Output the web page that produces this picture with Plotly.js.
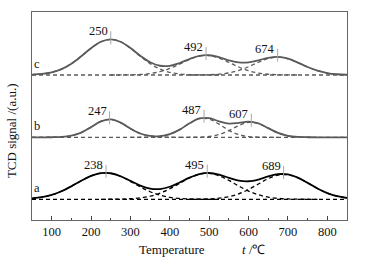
<!DOCTYPE html>
<html><head><meta charset="utf-8">
<script src="https://cdn.plot.ly/plotly-3.0.1.min.js"></script>
<style>html,body{margin:0;padding:0;background:#fff}#chart{width:375px;height:261px}</style>
</head><body><div id="chart"></div>
<script>
// Temperature grid (°C)
const temps = [50,75,100,125,150,175,200,225,250,275,300,325,350,375,400,425,450,475,500,525,550,575,600,625,650,675,700,725,750,775,800,825,850];

// Sample c: fitted peak components (signal above baseline, a.u.)
const c_p1 = [0.36,1.06,2.70,5.94,11.33,18.72,26.79,33.23,35.7,33.23,26.79,18.72,11.33,5.94,2.70,1.06,0.36,0.11,0.03,0,0,0,0,0,0,0,0,0,0,0,0,0,0];
const c_p2 = [0,0,0,0,0,0,0,0,0,0.04,0.16,0.52,1.42,3.30,6.52,10.93,15.58,18.88,19.44,17.01,12.65,8.00,4.30,1.96,0.76,0.25,0.07,0,0,0,0,0,0];
const c_p3 = [0,0,0,0,0,0,0,0,0,0,0,0,0,0,0,0,0,0.07,0.27,0.82,2.10,4.56,8.32,12.75,16.43,17.8,16.21,12.40,7.98,4.32,1.96,0.75,0.24];

// Sample b
const b_p1 = [0,0.01,0.07,0.38,1.58,4.72,10.18,15.89,17.96,14.70,8.71,3.74,1.16,0.26,0.04,0,0,0,0,0,0,0,0,0,0,0,0,0,0,0,0,0,0];
const b_p2 = [0,0,0,0,0,0,0,0,0,0,0,0.03,0.20,0.92,3.09,7.66,13.94,18.64,18.29,13.19,6.98,2.72,0.78,0.16,0.03,0,0,0,0,0,0,0,0];
const b_p3 = [0,0,0,0,0,0,0,0,0,0,0,0,0,0,0,0,0.03,0.18,0.82,2.76,6.67,11.70,14.86,13.67,9.10,4.39,1.53,0.39,0.07,0,0,0,0];

// Sample a
const a_p1 = [0.94,2.18,4.45,8.08,12.99,18.51,23.39,26.19,26.00,22.89,17.85,12.34,7.57,4.11,1.98,0.85,0.32,0.11,0.03,0,0,0,0,0,0,0,0,0,0,0,0,0,0];
const a_p2 = [0,0,0,0,0,0,0,0,0.06,0.19,0.56,1.41,3.13,6.13,10.55,16.00,21.34,25.06,25.90,23.57,18.88,13.31,8.26,4.51,2.17,0.92,0.34,0.11,0.03,0,0,0,0];
const a_p3 = [0,0,0,0,0,0,0,0,0,0,0,0,0,0,0,0,0,0.12,0.39,1.09,2.61,5.43,9.79,15.27,20.64,24.17,24.52,21.55,16.41,10.82,6.19,3.06,1.31];

// Vertical offsets of the stacked curves
const sampleNames = ['a','b','c'];
const offsets = [20.7, 82.7, 145];

// Peak annotations
const a_peakT = [238,495,689], a_peakH = [26.6,26.6,25.3];
const b_peakT = [247,487,607], b_peakH = [18.0,19.6,15.6];
const c_peakT = [250,492,674], c_peakH = [35.7,20.0,18.3];

const xTickVals = [100,200,300,400,500,600,700,800];

const samples = [
  {name:sampleNames[0], comps:[a_p1,a_p2,a_p3], peakT:a_peakT, peakH:a_peakH, off:offsets[0], color:'#000000'},
  {name:sampleNames[1], comps:[b_p1,b_p2,b_p3], peakT:b_peakT, peakH:b_peakH, off:offsets[1], color:'#5a5a5a'},
  {name:sampleNames[2], comps:[c_p1,c_p2,c_p3], peakT:c_peakT, peakH:c_peakH, off:offsets[2], color:'#5a5a5a'}
];

const serif = 'Liberation Serif, Times New Roman, serif';
const traces = [], shapes = [], annotations = [];

samples.forEach(s => {
  // dashed baseline
  traces.push({x:temps, y:temps.map(()=>s.off), mode:'lines', type:'scatter',
    line:{color:s.color, width:1.3, dash:'4px,3px'}, hoverinfo:'skip', showlegend:false});
  // dashed components
  s.comps.forEach(comp => {
    const xs = [], ys = [];
    comp.forEach((v,i) => {
      const keep = v>0 || (i>0 && comp[i-1]>0) || (i<comp.length-1 && comp[i+1]>0);
      if (keep) { xs.push(temps[i]); ys.push(s.off + v); }
    });
    traces.push({x:xs, y:ys, mode:'lines', type:'scatter',
      line:{color:s.color, width:1.3, dash:'4px,3px', shape:'spline', smoothing:1}, hoverinfo:'skip', showlegend:false});
  });
  // solid total
  const total = temps.map((t,i) => s.off + s.comps.reduce((acc,c)=>acc+c[i],0));
  traces.push({x:temps, y:total, mode:'lines', type:'scatter',
    line:{color:s.color, width:1.8, shape:'spline', smoothing:1}, hoverinfo:'skip', showlegend:false});
  // peak markers and labels
  s.peakT.forEach((T,k) => {
    const top = s.off + s.peakH[k];
    shapes.push({type:'line', xref:'x', yref:'y', x0:T, x1:T, y0:top-5, y1:top+8,
      line:{color:'#a8a8a8', width:1}});
    annotations.push({x:T, y:top, xref:'x', yref:'y', text:String(T), showarrow:false,
      xanchor:'right', yanchor:'bottom', xshift:-1, yshift:-1,
      font:{family:serif, size:12.5, color:'#111'}});
  });
  // sample letter
  annotations.push({x:50, y:s.off, xref:'x', yref:'y', text:s.name, showarrow:false,
    xanchor:'left', yanchor:'bottom', xshift:0, yshift:2,
    font:{family:serif, size:12.5, color:'#111'}});
});

// axis titles
annotations.push({xref:'paper', yref:'paper', x:-0.065, y:0.43, text:'TCD signal /(a.u.)', textangle:-90,
  showarrow:false, xanchor:'center', yanchor:'middle', font:{family:serif, size:13, color:'#111'}});
annotations.push({xref:'paper', yref:'paper', x:(137-32)/315, y:-0.098, text:'Temperature',
  showarrow:false, xanchor:'left', yanchor:'top', font:{family:serif, size:13, color:'#111'}});
annotations.push({xref:'paper', yref:'paper', x:(240-32)/315, y:-0.098, text:'<i>t</i> /℃',
  showarrow:false, xanchor:'left', yanchor:'top', font:{family:serif, size:13, color:'#111'}});

const layout = {
  width:375, height:261,
  margin:{l:32, r:28, t:12, b:41, pad:0},
  paper_bgcolor:'#fff', plot_bgcolor:'#fff',
  showlegend:false,
  xaxis:{range:[50,850], tickvals:xTickVals, ticktext:xTickVals.map(String), ticks:'inside', ticklen:4, tickwidth:1, tickcolor:'#444',
    minor:{dtick:50, tick0:0, ticks:'inside', ticklen:2, tickcolor:'#444'},
    showline:true, linecolor:'#666', linewidth:1, mirror:true, showgrid:false, zeroline:false,
    tickfont:{family:serif, size:12.5, color:'#111'}},
  yaxis:{range:[0,208], showticklabels:false, ticks:'', showline:true, linecolor:'#666', linewidth:1, mirror:true,
    showgrid:false, zeroline:false},
  shapes:shapes, annotations:annotations
};

Plotly.newPlot('chart', traces, layout, {staticPlot:true, displayModeBar:false});
</script></body></html>
